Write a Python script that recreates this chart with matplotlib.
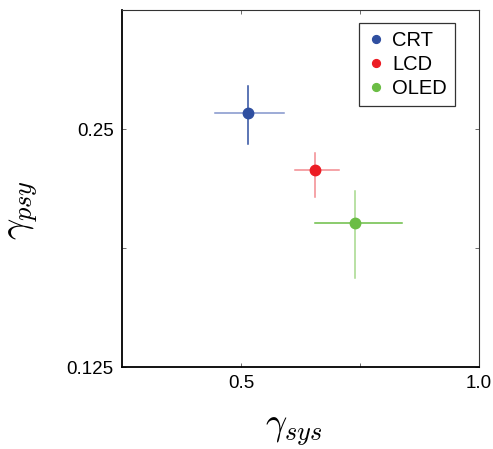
import matplotlib.pyplot as plt
import numpy as np

plt.rcParams["font.family"] = ["Liberation Sans", "DejaVu Sans"]
plt.rcParams["mathtext.fontset"] = "cm"

# display type, gamma estimates and error ranges
displays = ["CRT", "LCD", "OLED"]
gamma_sys = [0.511, 0.620, 0.697]
sys_low = [0.463, 0.585, 0.620]
sys_high = [0.567, 0.665, 0.799]
gamma_psy = [0.262, 0.222, 0.190]
psy_low = [0.239, 0.205, 0.162]
psy_high = [0.283, 0.233, 0.209]

marker_colors = ["#2f4fa0", "#ec1c24", "#6bbd45"]
hbar_colors = ["#8294cc", "#f38a90", "#6bbd45"]
vbar_colors = ["#2f4fa0", "#f38a90", "#a6d98c"]

fig = plt.figure(figsize=(4.93, 4.49), dpi=100)
ax = fig.add_axes([0.2475, 0.1826, 0.7241, 0.7951])

for i, name in enumerate(displays):
    ax.plot([sys_low[i], sys_high[i]], [gamma_psy[i], gamma_psy[i]],
            color=hbar_colors[i], lw=1.1, zorder=2)
    ax.plot([gamma_sys[i], gamma_sys[i]], [psy_low[i], psy_high[i]],
            color=vbar_colors[i], lw=1.1, zorder=2)
    ax.plot(gamma_sys[i], gamma_psy[i], "o", color=marker_colors[i],
            markersize=7.5, label=name, zorder=3, linestyle="none")

ax.set_xscale("log", base=2)
ax.set_yscale("log", base=2)
ax.set_xlim(2 ** -1.5, 1.0)
ax.set_ylim(0.125, 2 ** -1.5)

ax.set_xticks([0.5, 2 ** -0.5, 1.0])
ax.set_xticklabels(["0.5", "", "1.0"])
ax.set_yticks([0.125, 2 ** -2.5, 0.25])
ax.set_yticklabels(["0.125", "", "0.25"])
ax.minorticks_off()
ax.tick_params(direction="in", length=3, width=0.6, top=True, right=True,
               labelsize=13.5, pad=6, color="#555555")

for side in ["left", "bottom"]:
    ax.spines[side].set_linewidth(1.3)
for side in ["top", "right"]:
    ax.spines[side].set_linewidth(0.8)
    ax.spines[side].set_color("#333333")

ax.set_xlabel(r"$\gamma_{sys}$", fontsize=27)
ax.set_ylabel(r"$\gamma_{psy}$", fontsize=27)
ax.xaxis.set_label_coords(0.48, -0.125)
ax.yaxis.set_label_coords(-0.23, 0.44)

leg = ax.legend(loc="upper right", bbox_to_anchor=(0.933, 0.964), fontsize=14.5,
                frameon=True, fancybox=False, handletextpad=0.35,
                borderpad=0.4, labelspacing=0.25, handlelength=0.9,
                borderaxespad=0, markerscale=0.75)
leg.get_frame().set_edgecolor("black")
leg.get_frame().set_linewidth(0.9)

fig.savefig("out.png", dpi=100)
